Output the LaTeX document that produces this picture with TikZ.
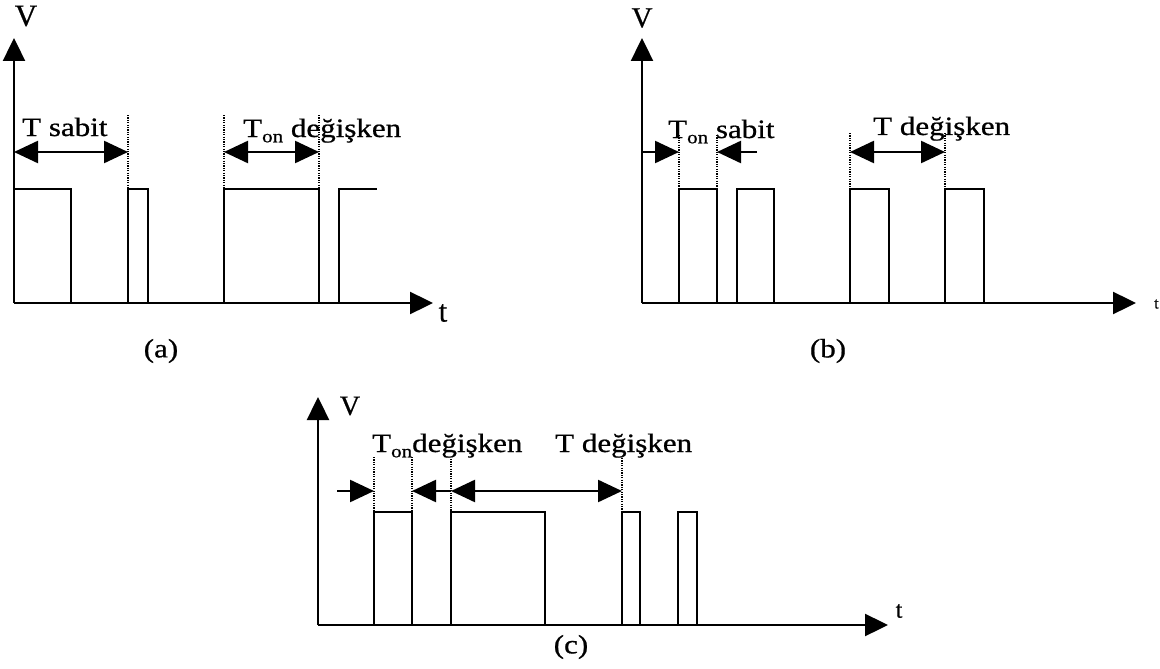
\documentclass[tikz,border=0pt]{standalone}
\usepackage{fontspec}
\setmainfont{Liberation Serif}[FakeBold=0.7]
\usepackage{graphicx}
\usetikzlibrary{arrows.meta}

% widened serif lettering and a lowered "on" subscript
\newcommand{\widetxt}[1]{\scalebox{1.17}[1]{#1}}
\newcommand{\lowsub}[1]{\raisebox{-0.2em}{\fontsize{18}{20}\selectfont #1}}

\begin{document}
\begin{tikzpicture}[x=1pt,y=-1pt,
  lbl/.style={font=\fontsize{26.5}{30}\selectfont, inner sep=0pt},
  wave/.style={line width=2.5pt, line join=miter},
  axis/.style={line width=2.4pt, -{Triangle[length=23pt,width=22pt]}},
  guide/.style={line width=2.2pt, dash pattern=on 1.2pt off 1.2pt},
  span/.style={line width=2.4pt, {Triangle[length=24pt,width=22pt]}-{Triangle[length=24pt,width=22pt]}},
  tohere/.style={line width=2.4pt, -{Triangle[length=24pt,width=22pt]}}
]
\useasboundingbox (0,0) rectangle (1160,669);

% ---------------- (a) fixed period, variable on-time ----------------
\coordinate (a0) at (14,303);
\coordinate (aytop) at (14,38);
\coordinate (axend) at (433,303);
\draw[axis] (a0) -- (aytop);
\draw[axis] (a0) -- (axend);
\node[lbl, font=\fontsize{31}{34}\selectfont] (aV) at (26,16) {V};
\node[lbl, font=\fontsize{31}{34}\selectfont] (at) at (443,313) {t};
\node[lbl] (acap) at (161,351) {\widetxt{(a)}};

\draw[wave] (14,189) -- (71,189) -- (71,303);
\draw[wave] (128,303) -- (128,189) -- (148,189) -- (148,303);
\draw[wave] (224,303) -- (224,189) -- (319,189) -- (319,303);
\draw[wave] (339,303) -- (339,189) -- (377,189);

\coordinate (ag1) at (128,115); \coordinate (ag1b) at (128,189);
\coordinate (ag2) at (224,115); \coordinate (ag2b) at (224,189);
\coordinate (ag3) at (319,115); \coordinate (ag3b) at (319,189);
\draw[guide] (ag1) -- (ag1b);
\draw[guide] (ag2) -- (ag2b);
\draw[guide] (ag3) -- (ag3b);

\coordinate (aa1) at (14,152);
\coordinate (aa2) at (128,152);
\coordinate (aa3) at (224,152);
\coordinate (aa4) at (319,152);
\draw[span] (aa1) -- (aa2);
\draw[span] (aa3) -- (aa4);
\node[lbl, anchor=base west] (aT) at (22,136) {\widetxt{T sabit}};
\node[lbl, anchor=base west] (aTon) at (243,137) {\widetxt{T\lowsub{on} değişken}};

% ---------------- (b) fixed on-time, variable period ----------------
\coordinate (b0) at (642,303);
\coordinate (bytop) at (642,38);
\coordinate (bxend) at (1136,303);
\draw[axis] (b0) -- (bytop);
\draw[axis] (b0) -- (bxend);
\node[lbl, font=\fontsize{29}{32}\selectfont] (bV) at (642,18) {V};
\node[lbl, font=\fontsize{16}{18}\selectfont, anchor=west] (bt) at (1154,304) {t};
\node[lbl] (bcap) at (828,351) {\widetxt{(b)}};

\draw[wave] (679,303) -- (679,189) -- (717,189) -- (717,303);
\draw[wave] (737,303) -- (737,189) -- (774,189) -- (774,303);
\draw[wave] (850,303) -- (850,189) -- (889,189) -- (889,303);
\draw[wave] (945,303) -- (945,189) -- (984,189) -- (984,303);

\coordinate (bg1) at (679,135); \coordinate (bg1b) at (679,189);
\coordinate (bg2) at (717,135); \coordinate (bg2b) at (717,189);
\coordinate (bg3) at (850,133); \coordinate (bg3b) at (850,189);
\coordinate (bg4) at (945,133); \coordinate (bg4b) at (945,189);
\draw[guide] (bg1) -- (bg1b);
\draw[guide] (bg2) -- (bg2b);
\draw[guide] (bg3) -- (bg3b);
\draw[guide] (bg4) -- (bg4b);

\coordinate (ba0) at (642,152);
\coordinate (ba1) at (679,152);
\coordinate (ba2) at (717,152);
\coordinate (ba2t) at (757,152);
\coordinate (ba3) at (850,152);
\coordinate (ba4) at (945,152);
\draw[tohere] (ba0) -- (ba1);
\draw[tohere] (ba2t) -- (ba2);
\draw[span] (ba3) -- (ba4);
\node[lbl, anchor=base west] (bTon) at (668,138) {\widetxt{T\lowsub{on} sabit}};
\node[lbl, anchor=base west] (bT) at (873,135) {\widetxt{T değişken}};

% ---------------- (c) both on-time and period variable ----------------
\coordinate (c0) at (318,625);
\coordinate (cytop) at (318,397);
\coordinate (cxend) at (888,625);
\draw[axis] (c0) -- (cytop);
\draw[axis] (c0) -- (cxend);
\node[lbl, font=\fontsize{28}{30}\selectfont] (cV) at (350,406) {V};
\node[lbl, font=\fontsize{24}{26}\selectfont] (ct) at (899,611) {t};
\node[lbl] (ccap) at (571,647) {\widetxt{(c)}};

\draw[wave] (374,625) -- (374,512) -- (412,512) -- (412,625);
\draw[wave] (451,625) -- (451,512) -- (545,512) -- (545,625);
\draw[wave] (622,625) -- (622,512) -- (640,512) -- (640,625);
\draw[wave] (678,625) -- (678,512) -- (697,512) -- (697,625);

\coordinate (cg1) at (374,457); \coordinate (cg1b) at (374,512);
\coordinate (cg2) at (412,457); \coordinate (cg2b) at (412,512);
\coordinate (cg3) at (451,459); \coordinate (cg3b) at (451,512);
\coordinate (cg4) at (622,458); \coordinate (cg4b) at (622,512);
\draw[guide] (cg1) -- (cg1b);
\draw[guide] (cg2) -- (cg2b);
\draw[guide] (cg3) -- (cg3b);
\draw[guide] (cg4) -- (cg4b);

\coordinate (ca0) at (337,491);
\coordinate (ca1) at (374,491);
\coordinate (ca2) at (412,491);
\coordinate (ca3) at (451,491);
\coordinate (ca4) at (622,491);
\draw[tohere] (ca0) -- (ca1);
\draw[tohere] (ca3) -- (ca2);
\draw[span] (ca3) -- (ca4);
\node[lbl, anchor=base west] (cTon) at (372,452) {\widetxt{T\lowsub{on}değişken}};
\node[lbl, anchor=base west] (cT) at (555,452) {\widetxt{T değişken}};
\end{tikzpicture}
\end{document}
